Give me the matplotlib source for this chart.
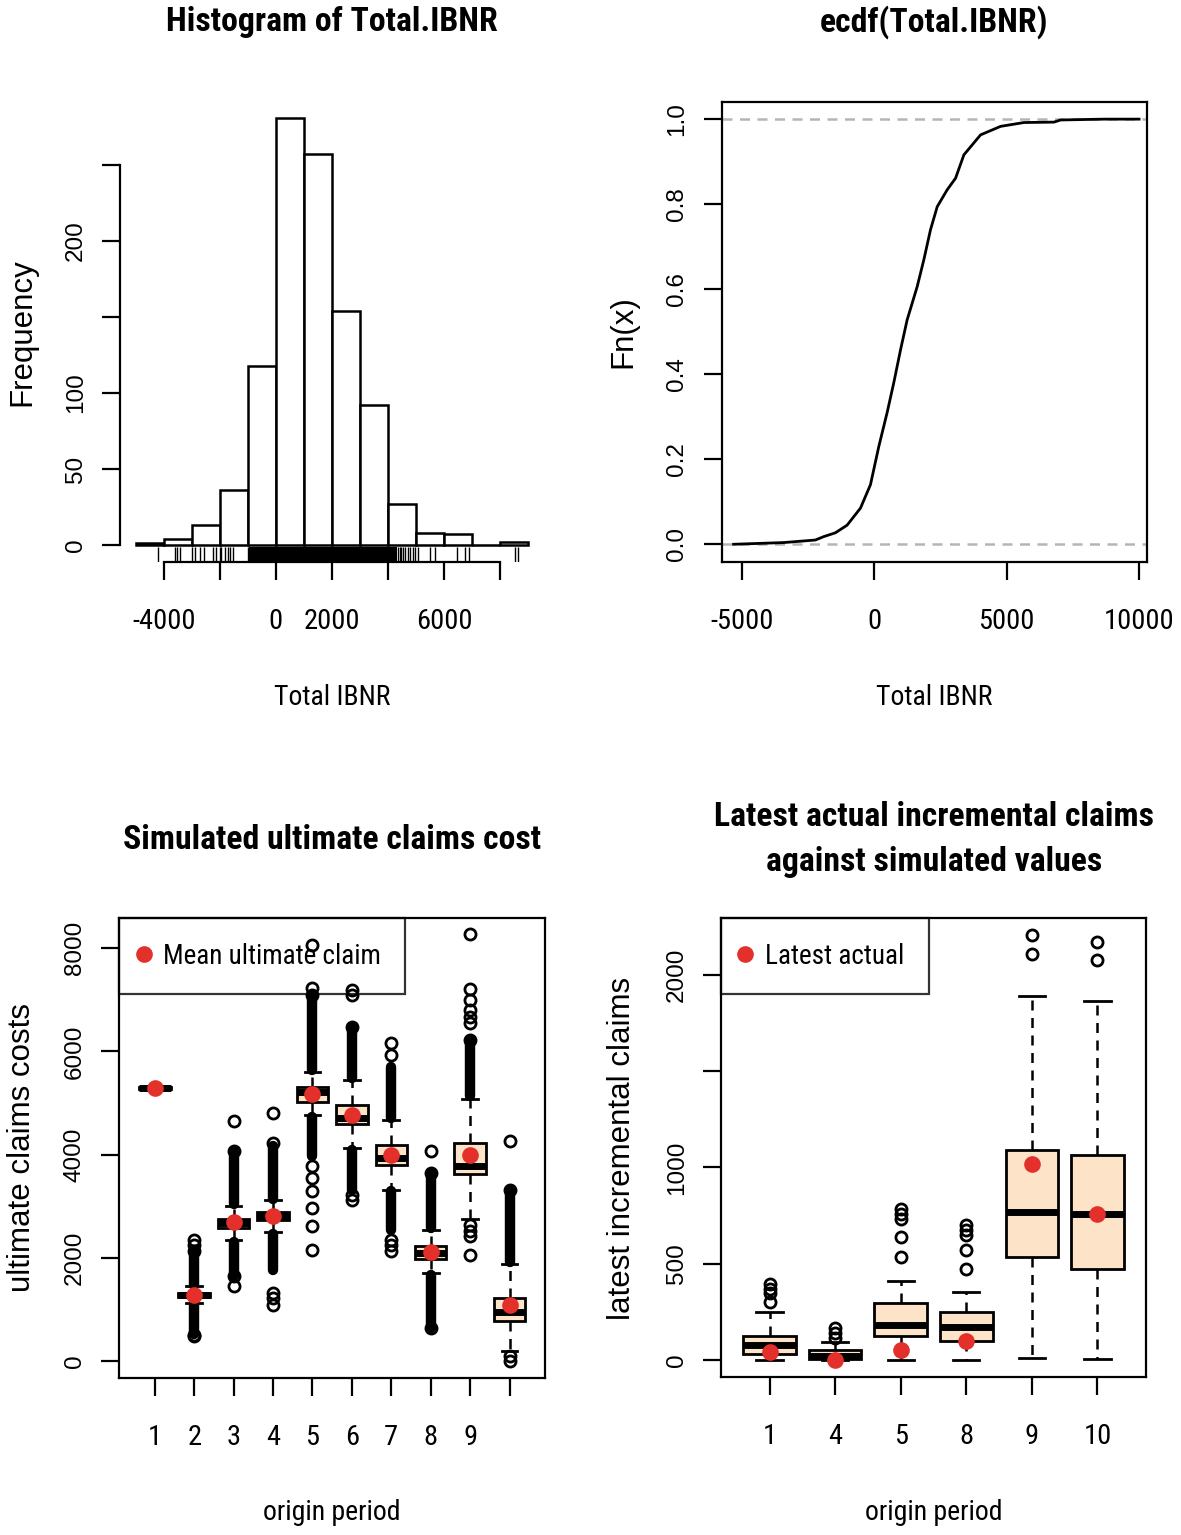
import matplotlib
matplotlib.use("Agg")
import matplotlib.pyplot as plt
from matplotlib import font_manager
from matplotlib.lines import Line2D

#############################################
# Bootstrap chain-ladder summary: 4 panels
#############################################

# ---- histogram of Total.IBNR ----
hist_edges = [-5000, -4000, -3000, -2000, -1000, 0, 1000, 2000, 3000, 4000, 5000, 6000, 7000, 8000, 9000]
hist_counts = [1, 4, 13, 36, 118, 281, 257, 154, 92, 27, 8, 7, 0, 2]
rug_sparse = [-4200, -3610, -3520, -3430, -2980, -2900, -2700, -2560, -2240, -2120, -2000, -1950,
              -1820, -1700, -1640, -1520, -1000, 4370, 4420, 4480, 4550, 4620, 4700, 4780, 4900,
              4950, 5080, 5500, 5680, 6450, 6750, 6900, 8540, 8650]
rug_dense = (-950, 4310)
hist_xticks = [-4000, -2000, 0, 2000, 4000, 6000, 8000]
hist_xlabels = ["-4000", "", "0", "2000", "", "6000", ""]
hist_yticks = [0, 50, 100, 150, 200, 250]
hist_ylabels = ["0", "50", "100", "", "200", ""]

# ---- ecdf(Total.IBNR) ----
ecdf_x = [-5330, -3435, -2235, -1920, -1477, -1034, -530, -152, 164, 480, 731, 985, 1237, 1616,
          1867, 2121, 2374, 2753, 3068, 3383, 4015, 4773, 5655, 6792, 7045, 8686, 10011]
ecdf_y = [0.0, 0.004, 0.010, 0.018, 0.027, 0.045, 0.085, 0.14, 0.23, 0.31, 0.38, 0.457, 0.528, 0.606,
          0.669, 0.74, 0.794, 0.834, 0.861, 0.916, 0.963, 0.983, 0.992, 0.993, 0.998, 1.0, 1.0]

# ---- simulated ultimate claims cost by origin period ----
ult_periods = ["1", "2", "3", "4", "5", "6", "7", "8", "9", "10"]
ult_tick_labels = ["1", "2", "3", "4", "5", "6", "7", "8", "9", ""]
ult_q1 = [5270, 1250, 2590, 2730, 5030, 4600, 3800, 1990, 3620, 780]
ult_med = [5290, 1290, 2680, 2810, 5210, 4720, 3940, 2100, 3780, 960]
ult_q3 = [5310, 1330, 2760, 2890, 5310, 4970, 4190, 2240, 4220, 1230]
ult_whislo = [5290, 1130, 2340, 2500, 4774, 4129, 3322, 1710, 2755, 193]
ult_whishi = [5290, 1450, 3010, 3120, 5612, 5451, 4677, 2548, 5077, 1885]
# outliers that stand apart
ult_fliers = [
    [],
    [2140, 2250, 2355, 484, 515],
    [4064, 4645, 1645, 1451],
    [4226, 4818, 1323, 1226, 1097],
    [7225, 7100, 8063, 3773, 3549, 3290, 2968, 2612, 2161],
    [6482, 7096, 7192, 3226, 3129],
    [5935, 6161, 2355, 2258, 2128],
    [3645, 4064, 646],
    [6225, 6548, 6676, 6805, 6999, 7205, 8270, 2645, 2520, 2419, 2065],
    [3322, 4257, 97, 0],
]
# runs of outliers so dense they print as a solid column (low, high)
ult_dense = [
    [],
    [(1470, 2140), (520, 1110)],
    [(3040, 4064), (1645, 2310)],
    [(3150, 4160), (1774, 2470)],
    [(5650, 7100), (3967, 4730)],
    [(5490, 6482), (3322, 4090)],
    [(4720, 5708), (2548, 3290)],
    [(2590, 3645), (646, 1670)],
    [(5130, 6225)],
    [(1930, 3322)],
]
ult_mean = [5290, 1290, 2700, 2820, 5175, 4774, 4000, 2109, 3986, 1097]

# ---- latest actual incremental claims vs simulated ----
lat_periods = ["1", "4", "5", "8", "9", "10"]
lat_q1 = [31, 4, 124, 100, 534, 474]
lat_med = [78, 17, 181, 172, 770, 755]
lat_q3 = [124, 52, 293, 247, 1089, 1063]
lat_whislo = [0, 0, 0, 0, 9, 4]
lat_whishi = [250, 90, 408, 352, 1891, 1866]
lat_fliers = [[302, 345, 370, 396], [112, 138, 164], [534, 637, 732, 758, 784],
              [474, 569, 646, 672, 698], [2111, 2206], [2077, 2171]]
lat_actual = [40, 0, 52, 100, 1017, 760]

#--------------------------------
# Fonts / style
#--------------------------------
names = {f.name for f in font_manager.fontManager.ttflist}
REG = "Liberation Sans" if "Liberation Sans" in names else "DejaVu Sans"
NARROW = REG
for cand in ["Roboto Condensed", "Archivo Narrow", "PT Sans Narrow"]:
    if cand in names:
        NARROW = cand
        break

RED = "#e3302a"
BISQUE = "#fde3c8"
LW = 1.6

W, H = 1181, 1535
fig = plt.figure(figsize=(W / 100, H / 100), dpi=100)


def px_axes(x0, y0, x1, y1):
    return fig.add_axes([x0 / W, 1 - y1 / H, (x1 - x0) / W, (y1 - y0) / H])


def style_axes(ax):
    for sp in ax.spines.values():
        sp.set_linewidth(LW)
    ax.tick_params(axis="both", direction="out", length=13, width=LW, color="black")
    ax.tick_params(axis="x", pad=20)
    ax.tick_params(axis="y", pad=11)
    for lbl in ax.get_xticklabels():
        lbl.set_fontfamily(NARROW)
        lbl.set_fontsize(20.5)
    for lbl in ax.get_yticklabels():
        lbl.set_fontfamily(REG)
        lbl.set_fontsize(17.5)
        lbl.set_rotation(90)
        lbl.set_va("center")
        lbl.set_ha("right")


def fig_text(x, y, s, size, bold=False, rot=0, family=None):
    fig.text(x / W, 1 - y / H, s, ha="center", va="center", rotation=rot,
             fontsize=size, fontweight="bold" if bold else "normal",
             fontfamily=family or (REG if rot else NARROW))


def add_legend(ax, label):
    handle = Line2D([], [], linestyle="none", marker="o", markersize=12,
                    color=RED, markeredgewidth=0)
    leg = ax.legend(handles=[handle], labels=[label], loc="upper left", borderaxespad=0,
                    frameon=True, fancybox=False, handlelength=0, handletextpad=0.72,
                    borderpad=0.9, prop={"family": NARROW, "size": 19.5})
    frame = leg.get_frame()
    frame.set_edgecolor("black")
    frame.set_facecolor("none")
    frame.set_linewidth(LW)


#--------------------------------
# 1) Histogram
#--------------------------------
ax1 = px_axes(120, 102.4, 543.7, 562)
widths = [b - a for a, b in zip(hist_edges[:-1], hist_edges[1:])]
ax1.bar(hist_edges[:-1], hist_counts, width=widths, align="edge",
        facecolor="white", edgecolor="black", linewidth=1.8)
ax1.set_xlim(-5560, 9560)
ax1.set_ylim(-11.2, 291.2)
# rug along the bottom edge
ax1.vlines(rug_sparse, -11.2, -1.5, color="black", linewidth=1.0)
ax1.fill_between(rug_dense, -11.2, -1.5, color="black", linewidth=0)
ax1.spines["top"].set_visible(False)
ax1.spines["right"].set_visible(False)
ax1.spines["bottom"].set_bounds(-4000, 8000)
ax1.spines["left"].set_bounds(0, 250)
ax1.set_xticks(hist_xticks, hist_xlabels)
ax1.set_yticks(hist_yticks, hist_ylabels)
style_axes(ax1)

#--------------------------------
# 2) ECDF
#--------------------------------
ax2 = px_axes(721.7, 101.7, 1146.7, 561.7)
ax2.axhline(0, color="#b5b5b5", linewidth=1.8, linestyle=(0, (4, 3)))
ax2.axhline(1, color="#b5b5b5", linewidth=1.8, linestyle=(0, (4, 3)))
ax2.plot(ecdf_x, ecdf_y, color="black", linewidth=2.0)
ax2.set_xlim(-5780, 10300)
ax2.set_ylim(-0.041, 1.041)
ax2.set_xticks([-5000, 0, 5000, 10000], ["-5000", "0", "5000", "10000"])
ax2.set_yticks([0, 0.2, 0.4, 0.6, 0.8, 1.0], ["0.0", "0.2", "0.4", "0.6", "0.8", "1.0"])
style_axes(ax2)


#--------------------------------
# Boxplot helper
#--------------------------------
def draw_boxes(ax, q1, med, q3, lo, hi, fliers):
    stats = []
    for i in range(len(q1)):
        stats.append(dict(q1=q1[i], med=med[i], q3=q3[i], whislo=lo[i], whishi=hi[i], fliers=fliers[i]))
    ax.bxp(stats, positions=list(range(1, len(stats) + 1)), widths=0.8, patch_artist=True,
           boxprops=dict(facecolor=BISQUE, edgecolor="black", linewidth=2.0),
           medianprops=dict(color="black", linewidth=5),
           whiskerprops=dict(color="black", linewidth=1.8, linestyle=(0, (4, 3))),
           capprops=dict(color="black", linewidth=2.0),
           flierprops=dict(marker="o", markerfacecolor="none", markeredgecolor="black",
                           markersize=8, markeredgewidth=2.0))


#--------------------------------
# 3) Simulated ultimate claims cost
#--------------------------------
ax3 = px_axes(119.3, 918.3, 545, 1378.3)
for pos, spans in enumerate(ult_dense, start=1):
    for lo, hi in spans:
        ax3.vlines(pos, lo, hi, color="black", linewidth=7.5, capstyle="round", zorder=1)
draw_boxes(ax3, ult_q1, ult_med, ult_q3, ult_whislo, ult_whishi, ult_fliers)
ax3.plot(range(1, len(ult_mean) + 1), ult_mean, linestyle="none", marker="o",
         markersize=12, color=RED, markeredgewidth=0, zorder=5)
ax3.set_xlim(0.1, 10.9)
ax3.set_ylim(-330, 8580)
ax3.set_xticks(range(1, len(ult_periods) + 1), ult_tick_labels)
ax3.set_yticks([0, 2000, 4000, 6000, 8000], ["0", "2000", "4000", "6000", "8000"])
style_axes(ax3)
add_legend(ax3, "Mean ultimate claim")

#--------------------------------
# 4) Latest actual vs simulated
#--------------------------------
ax4 = px_axes(721, 918.3, 1146, 1376.7)
draw_boxes(ax4, lat_q1, lat_med, lat_q3, lat_whislo, lat_whishi, lat_fliers)
ax4.plot(range(1, len(lat_actual) + 1), lat_actual, linestyle="none", marker="o",
         markersize=12, color=RED, markeredgewidth=0, zorder=5)
ax4.set_xlim(0.26, 6.74)
ax4.set_ylim(-88, 2294)
ax4.set_xticks(range(1, len(lat_periods) + 1), lat_periods)
ax4.set_yticks([0, 500, 1000, 1500, 2000], ["0", "500", "1000", "", "2000"])
style_axes(ax4)
add_legend(ax4, "Latest actual")

#--------------------------------
# Titles and axis labels
#--------------------------------
fig_text(332, 22, "Histogram of Total.IBNR", 24.3, bold=True)
fig_text(934, 22, "ecdf(Total.IBNR)", 24.3, bold=True)
fig_text(332, 840, "Simulated ultimate claims cost", 24.3, bold=True)
fig_text(934, 817, "Latest actual incremental claims", 24.3, bold=True)
fig_text(934, 862, "against simulated values", 24.3, bold=True)

fig_text(332, 697, "Total IBNR", 20)
fig_text(934, 697, "Total IBNR", 20)
fig_text(332, 1513, "origin period", 20)
fig_text(934, 1513, "origin period", 20)
fig_text(22, 332, "Frequency", 22.5, rot=90)
fig_text(623, 332, "Fn(x)", 22.5, rot=90)
fig_text(22, 1148, "ultimate claims costs", 22.5, rot=90)
fig_text(622, 1148, "latest incremental claims", 22.5, rot=90)

fig.savefig("out.png", dpi=100, facecolor="white")
